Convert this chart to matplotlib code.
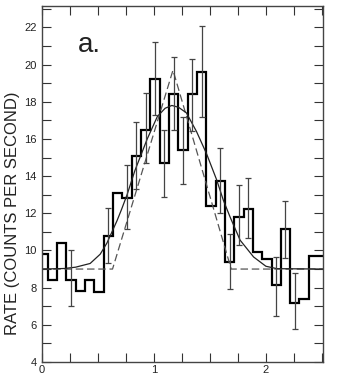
import numpy as np
import matplotlib
matplotlib.use("Agg")
import matplotlib.pyplot as plt
from matplotlib.ticker import MultipleLocator, FuncFormatter

plt.rcParams['font.family'] = ['Liberation Sans', 'DejaVu Sans']

# ---- data ----
bin_width = 1.0 / 12.0
bin_start = -1.0 / 30.0          # left edge of first bin
rate = [9.8, 8.4, 10.4, 8.4, 7.8, 8.4, 7.75, 10.8, 13.1, 12.8,
        15.1, 16.5, 19.2, 14.7, 18.4, 15.4, 18.4, 19.6, 12.4, 13.75,
        9.4, 11.8, 12.25, 9.9, 9.55, 8.15, 11.15, 7.2, 7.4, 9.7, 9.7]

err_bins = [3, 7, 9, 10, 11, 12, 13, 14, 15, 16, 17, 19, 20, 21, 22, 25, 26, 27]
err_low  = [7.0, 9.3, 11.15, 13.3, 14.7, 17.3, 12.9, 16.5, 13.6, 16.4, 17.2,
            12.0, 7.9, 10.3, 10.65, 6.5, 9.6, 5.8]
err_high = [10.0, 12.3, 14.6, 16.9, 18.45, 21.2, 16.5, 20.4, 17.2, 20.3, 22.05,
            15.5, 10.9, 13.5, 13.9, 9.65, 12.65, 8.8]

curve_x = [0.0, 0.2, 0.3, 0.43, 0.52, 0.58, 0.67, 0.71, 0.76, 0.83, 0.94, 1.03,
           1.1, 1.16, 1.22, 1.29, 1.38, 1.47, 1.56, 1.62, 1.68, 1.77, 1.89, 2.0,
           2.1, 2.51]
curve_y = [9.0, 9.03, 9.1, 9.3, 9.8, 10.4, 11.6, 12.2, 13.0, 14.3, 16.0, 17.2,
           17.65, 17.8, 17.7, 17.4, 16.4, 15.2, 13.8, 12.7, 11.8, 10.55, 9.65, 9.15,
           9.02, 9.0]

dash_x = [0.0, 0.63, 1.17, 1.69, 2.51]
dash_y = [9.0, 9.0, 19.7, 9.0, 9.0]

x_labels = {0: "0", 1: "1", 2: "2"}

# ---- figure ----
fig = plt.figure(figsize=(3.43, 3.82), dpi=100)
ax = fig.add_axes([42/343, 1-362/382, (323-42)/343, (362-6)/382])

edges = bin_start + bin_width * np.arange(len(rate) + 1)
centers = 0.5 * (edges[:-1] + edges[1:])

ax.plot(dash_x, dash_y, color='#555555', lw=0.9, dashes=(6, 3))
ax.plot(curve_x, curve_y, color='#222222', lw=0.9)

ec = [centers[i] for i in err_bins]
mid = [rate[i] for i in err_bins]
lo = np.array(mid) - np.array(err_low)
hi = np.array(err_high) - np.array(mid)
ax.errorbar(ec, mid, yerr=[lo, hi], fmt='none', ecolor='#444444',
            elinewidth=0.9, capsize=2.2, capthick=0.9)

ax.stairs(rate, edges, color='black', lw=1.6, baseline=None)

ax.set_xlim(0, 2.51)
ax.set_ylim(4, 23.15)

ax.xaxis.set_major_locator(MultipleLocator(0.25))
ax.xaxis.set_major_formatter(FuncFormatter(
    lambda v, p: x_labels.get(int(round(v)), "") if abs(v - round(v)) < 1e-6 else ""))
ax.yaxis.set_major_locator(MultipleLocator(1))
ax.yaxis.set_major_formatter(FuncFormatter(
    lambda v, p: f"{int(round(v))}" if int(round(v)) % 2 == 0 else ""))

ax.tick_params(axis='both', which='major', direction='in', length=6.5,
               width=0.8, color='#333333', labelsize=8, top=True, right=True,
               labelcolor='#222222')
ax.tick_params(axis='y', pad=4)
ax.tick_params(axis='x', pad=2)

for s in ax.spines.values():
    s.set_linewidth(1.0)
    s.set_color('#444444')

ax.set_ylabel("RATE (COUNTS PER SECOND)", fontsize=12, color='#222222')
ax.yaxis.label.set_va('center')
ax.yaxis.label.set_ha('center')
ax.yaxis.set_label_coords(-0.105, 0.417)

ax.text(0.32, 21.05, "a.", fontsize=20, va='center', ha='left', color='#222222')

fig.savefig("out.png", dpi=100)
